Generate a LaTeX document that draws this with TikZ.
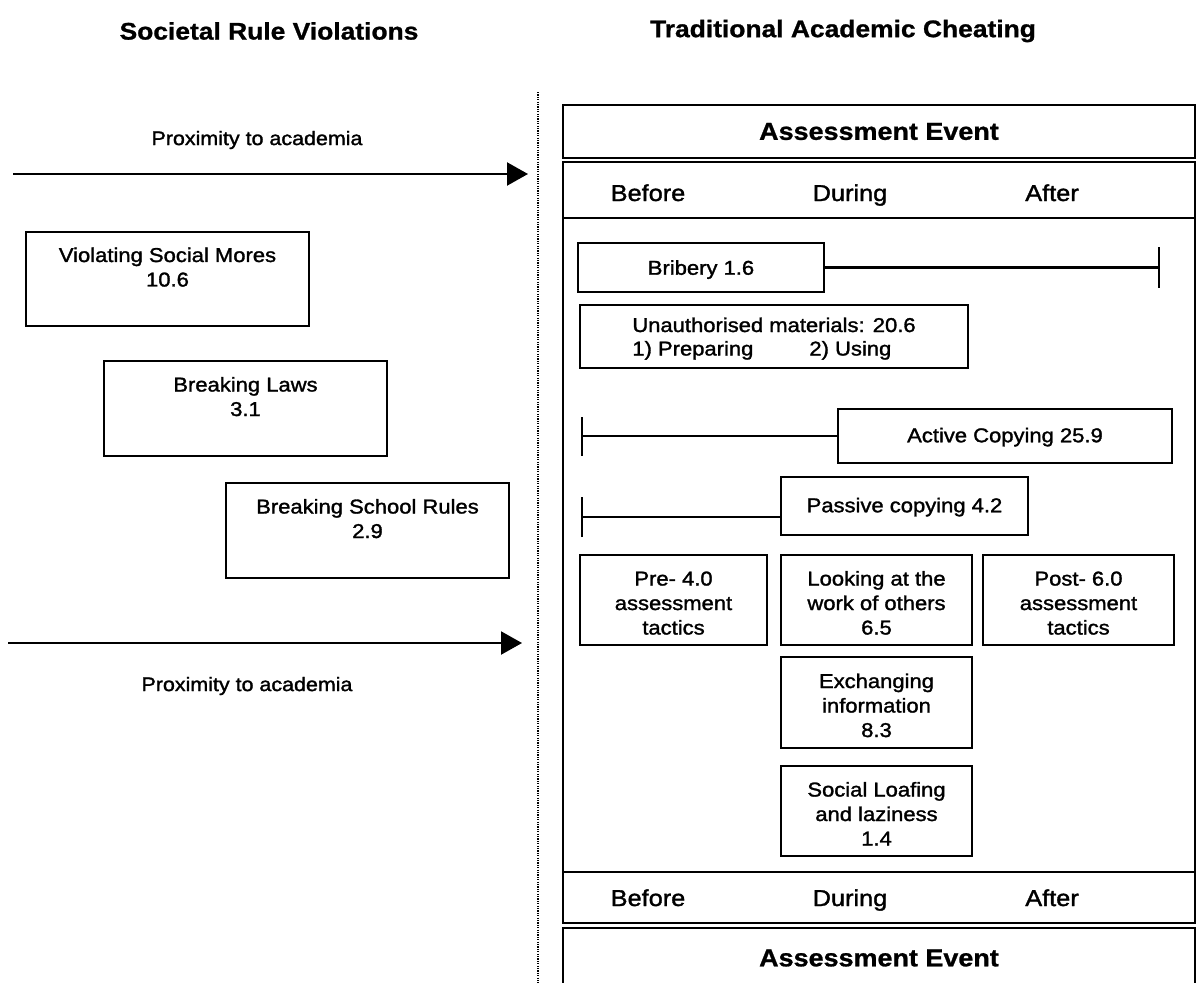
\documentclass[tikz,border=0pt]{standalone}
\usepackage{fontspec}
\setmainfont{Liberation Sans}[FakeStretch=1.1,
  UprightFeatures={FakeBold=1.5}, BoldFeatures={FakeBold=1.0}]
\usetikzlibrary{arrows.meta}
\begin{document}
\begin{tikzpicture}[x=1pt,y=-1pt,
  every node/.style={inner sep=0pt, outer sep=0pt},
  boxed/.style={draw, line width=2.8pt, align=center, text depth=1pt,
    font=\fontsize{20}{24.5}\selectfont},
  threeline/.style={text height=69pt, text depth=0pt},
  sidebox/.style={boxed, minimum width=283pt, text depth=24pt},
  band/.style={anchor=base, font=\fontsize{23}{27}\selectfont},
  strip/.style={draw, line width=2.8pt, minimum width=632pt},
  event/.style={font=\bfseries\fontsize{24.5}{28}\selectfont},
  heading/.style={font=\bfseries\fontsize{24}{28}\selectfont},
  proxlabel/.style={font=\fontsize{19.5}{22}\selectfont},
  frameline/.style={line width=2.8pt},
  link/.style={line width=2.2pt},
  proxarrow/.style={line width=2.2pt, -{Triangle[length=21pt,width=23pt]}},
]
\useasboundingbox (0,0) rectangle (1198,982);

% column headings
\node[heading] (headL) at (269,31) {Societal Rule Violations};
\node[heading] (headR) at (843,31) {Traditional Academic Cheating};

% dotted divider between the two halves
\coordinate (divTop) at (538,92);
\coordinate (divBot) at (538,990);
\draw[line width=2.2pt, dash pattern=on 1.2pt off 1.2pt] (divTop) -- (divBot);

% proximity arrows
\coordinate (proxAs) at (13,174);
\coordinate (proxAe) at (528,174);
\draw[proxarrow] (proxAs) -- (proxAe);
\node[proxlabel] (proxA) at (257,140) {Proximity to academia};

\coordinate (proxBs) at (8,643);
\coordinate (proxBe) at (522,643);
\draw[proxarrow] (proxBs) -- (proxBe);
\node[proxlabel] (proxB) at (247,686) {Proximity to academia};

% societal rule violations
\node[sidebox, minimum height=94pt] (mores) at (167.5,279) {Violating Social Mores\\10.6};
\node[sidebox, minimum height=95pt] (laws) at (245.5,408.5) {Breaking Laws\\3.1};
\node[sidebox, minimum height=95pt] (school) at (367.5,530.5) {Breaking School Rules\\2.9};

% assessment event frame
\node[strip, minimum height=53pt, event] (evTop) at (879,131.5) {Assessment Event};
\node[strip, minimum height=56pt] (bandTop) at (879,190) {};
\node[band] (befT) at (648,201) {Before};
\node[band] (durT) at (850,201) {During};
\node[band] (aftT) at (1052,201) {After};

\node[strip, minimum height=51pt] (bandBot) at (879,897.5) {};
\node[band] (befB) at (648,906) {Before};
\node[band] (durB) at (850,906) {During};
\node[band] (aftB) at (1052,906) {After};
\node[strip, minimum height=60pt, event] (evBot) at (879,958) {Assessment Event};

\draw[frameline] (bandTop.south west) -- (bandBot.north west);
\draw[frameline] (bandTop.south east) -- (bandBot.north east);

% cheating behaviours
\node[boxed, text depth=0pt, minimum width=246pt, minimum height=49pt] (bribery) at (701,267.5) {Bribery 1.6};
\coordinate (briberyEnd) at (1160,267.5);
\draw[link, -{Bar[width=41pt]}] (bribery.east) -- (briberyEnd);

\node[boxed, minimum width=388pt, minimum height=63pt, align=left, text depth=0pt,
      font=\fontsize{20}{23.5}\selectfont] (materials) at (774,336.5)
  {Unauthorised materials: 20.6\\1) Preparing\hspace{56pt}2) Using};

\node[boxed, text depth=2pt, minimum width=334pt, minimum height=54pt] (active) at (1005,436) {Active Copying 25.9};
\coordinate (activeStart) at (581,436);
\draw[link, {Bar[width=39pt]}-] (activeStart) -- (active.west);

\node[boxed, text depth=2pt, minimum width=247pt, minimum height=58pt] (passive) at (904.5,506) {Passive copying 4.2};
\coordinate (passiveStart) at (581,517);
\draw[link, {Bar[width=40pt]}-] (passiveStart) -- (passiveStart -| passive.west);

\node[boxed, threeline, minimum width=187pt, minimum height=90pt] (pre) at (673.5,600)
  {Pre- 4.0\\assessment\\tactics};
\node[boxed, threeline, minimum width=191pt, minimum height=90pt] (looking) at (876.5,600)
  {Looking at the\\work of others\\6.5};
\node[boxed, threeline, minimum width=191pt, minimum height=90pt] (post) at (1078.5,600)
  {Post- 6.0\\assessment\\tactics};
\node[boxed, threeline, minimum width=191pt, minimum height=91pt] (exchange) at (876.5,702.5)
  {Exchanging\\information\\8.3};
\node[boxed, threeline, minimum width=191pt, minimum height=90pt] (loafing) at (876.5,811)
  {Social Loafing\\and laziness\\1.4};
\end{tikzpicture}
\end{document}
